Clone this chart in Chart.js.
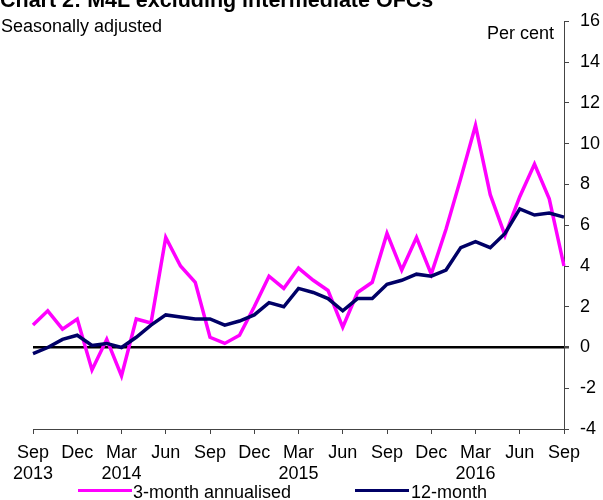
<!DOCTYPE html>
<html>
<head>
<meta charset="utf-8">
<script src="https://cdn.jsdelivr.net/npm/chart.js@4/dist/chart.umd.min.js"></script>
<style>
    body { margin: 0; background: #fff; }
    #wrap { position: relative; width: 603px; height: 500px; overflow: hidden; font-family: "Liberation Sans", Arial, sans-serif; color: #000; }
    #wrap canvas { position: absolute; left: 0; top: 0; }
    .txt { position: absolute; white-space: nowrap; font-size: 18px; line-height: 18px; }
    .title { font-weight: bold; font-size: 21.5px; line-height: 21.5px; }
    .swatch { position: absolute; height: 3px; width: 54px; }
</style>
</head>
<body>
<div id="wrap">
    <canvas id="m4l-chart" width="603" height="500"></canvas>
    <div class="txt title" style="left:0px; top:-10px;">Chart 2: M4L excluding intermediate OFCs</div>
    <div class="txt" style="left:1px; top:16.5px;">Seasonally adjusted</div>
    <div class="txt" style="left:487px; top:24px;">Per cent</div>
    <div class="swatch" style="left:78px; top:489px; background:#FF00FF;"></div>
    <div class="txt" style="left:133px; top:483px;">3-month annualised</div>
    <div class="swatch" style="left:355px; top:489px; background:#000066;"></div>
    <div class="txt" style="left:411px; top:483px;">12-month</div>
</div>
<script>
var months = ['Sep 2013', 'Oct 2013', 'Nov 2013', 'Dec 2013', 'Jan 2014', 'Feb 2014', 'Mar 2014',
    'Apr 2014', 'May 2014', 'Jun 2014', 'Jul 2014', 'Aug 2014', 'Sep 2014', 'Oct 2014', 'Nov 2014',
    'Dec 2014', 'Jan 2015', 'Feb 2015', 'Mar 2015', 'Apr 2015', 'May 2015', 'Jun 2015', 'Jul 2015',
    'Aug 2015', 'Sep 2015', 'Oct 2015', 'Nov 2015', 'Dec 2015', 'Jan 2016', 'Feb 2016', 'Mar 2016',
    'Apr 2016', 'May 2016', 'Jun 2016', 'Jul 2016', 'Aug 2016', 'Sep 2016']

var threeMonth = [1.1, 1.8, 0.9, 1.4, -1.1, 0.4, -1.4, 1.4, 1.2, 5.4, 4.0, 3.2, 0.5, 0.2, 0.6, 2.0,
    3.5, 2.9, 3.9, 3.3, 2.8, 1.0, 2.7, 3.2, 5.6, 3.8, 5.4, 3.6, 5.8, 8.3, 10.9, 7.5, 5.5, 7.4, 9.0, 7.3, 4.0]

var twelveMonth = [-0.3, 0.0, 0.4, 0.6, 0.1, 0.2, 0.0, 0.5, 1.1, 1.6, 1.5, 1.4, 1.4, 1.1, 1.3, 1.6,
    2.2, 2.0, 2.9, 2.7, 2.4, 1.8, 2.4, 2.4, 3.1, 3.3, 3.6, 3.5, 3.8, 4.9, 5.2, 4.9, 5.6, 6.8, 6.5, 6.6, 6.4]

var yTicks = { min: -4, max: 16, step: 2 }

var font = { family: '"Liberation Sans", Arial, sans-serif', size: 18, lineHeight: 21 / 18 }

var ctx = document.getElementById('m4l-chart').getContext('2d');
new Chart(ctx, {
    type: 'line',
    data: {
        labels: months,
        datasets: [{
            label: '3-month annualised',
            data: threeMonth,
            borderColor: '#FF00FF',
            backgroundColor: '#FF00FF',
            borderWidth: 3.5,
            pointRadius: 0,
            tension: 0,
            order: 2
        }, {
            label: '12-month',
            data: twelveMonth,
            borderColor: '#000066',
            backgroundColor: '#000066',
            borderWidth: 3.5,
            pointRadius: 0,
            tension: 0,
            order: 1
        }]
    },
    options: {
        responsive: false,
        animation: false,
        layout: {
            padding: { left: 33, top: 20, right: 3, bottom: 0 }
        },
        plugins: {
            legend: { display: false },
            tooltip: { enabled: false }
        },
        scales: {
            x: {
                offset: false,
                afterFit: function (scale) {
                    // keep the plot bottom at the same place as the reference
                    scale.height = 71;
                },
                grid: {
                    drawOnChartArea: false,
                    tickLength: 5,
                    tickColor: '#444'
                },
                border: { color: '#444', width: 1 },
                ticks: {
                    autoSkip: false,
                    maxRotation: 0,
                    padding: 9,
                    color: '#000',
                    font: font,
                    callback: function (value, index) {
                        if (index % 3 !== 0) return null;
                        var parts = months[index].split(' ');
                        if (index === 0 || parts[0] === 'Mar') return [parts[0], parts[1]];
                        return parts[0];
                    }
                }
            },
            y: {
                position: 'right',
                min: yTicks.min,
                max: yTicks.max,
                afterFit: function (scale) {
                    scale.width = 36;
                },
                grid: {
                    drawOnChartArea: true,
                    tickLength: 5,
                    tickColor: '#444',
                    color: function (c) {
                        return c.tick && c.tick.value === 0 ? '#000' : 'rgba(0,0,0,0)';
                    },
                    lineWidth: function (c) {
                        return c.tick && c.tick.value === 0 ? 2.5 : 1;
                    }
                },
                border: { color: '#444', width: 1 },
                ticks: {
                    stepSize: yTicks.step,
                    padding: 11,
                    color: '#000',
                    font: font
                }
            }
        }
    }
});
</script>
</body>
</html>
